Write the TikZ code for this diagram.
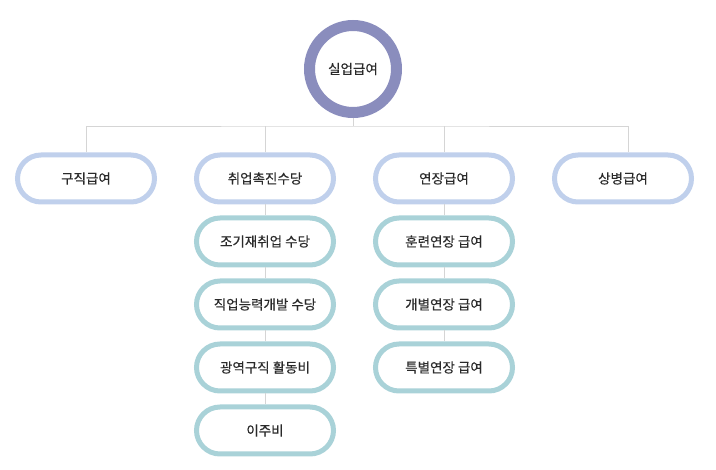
\documentclass[tikz,border=0pt]{standalone}
\usepackage{fontspec}
\setmainfont{Noto Sans CJK KR}[FakeBold=0.4]
\usetikzlibrary{positioning}
\definecolor{rootring}{HTML}{8A8DBD}
\definecolor{topring}{HTML}{C0D0EC}
\definecolor{subring}{HTML}{A9D2D8}
\definecolor{linkgray}{HTML}{D5D5D5}
\definecolor{labeltext}{HTML}{2A2A2A}
\tikzset{
    root/.style = {
        circle,
        draw = rootring,
        line width = 11pt,
        fill = white,
        minimum size = 87pt,
        inner sep = 0pt,
        },
    box/.style = {
        rectangle,
        rounded corners = 23.5pt,
        line width = 5pt,
        fill = white,
        minimum width = 137pt,
        minimum height = 47pt,
        inner sep = 0pt,
        },
    top/.style = {
        box,
        draw = topring,
        },
    sub/.style = {
        box,
        draw = subring,
        },
    link/.style = {
        draw = linkgray,
        line width = 0.8pt,
        },
    every node/.style = {
        text = labeltext,
        font = \fontsize{13.5pt}{16pt}\selectfont,
        }
}
\begin{document}
\begin{tikzpicture}[x=1pt, y=-1pt, node distance=11pt and 37pt]
            \useasboundingbox (0,0) rectangle (716,470);
            \node[root] (0) at (353,69) {실업급여};
            \node[top] (1) at (86,178.5) {구직급여};
            \node[top, right=of 1] (2) {취업촉진수당};
            \node[top, right=of 2] (3) {연장급여};
            \node[top, right=of 3] (4) {상병급여};

            \node[sub, below=of 2] (21) {조기재취업 수당};
            \node[sub, below=of 21] (22) {직업능력개발 수당};
            \node[sub, below=of 22] (23) {광역구직 활동비};
            \node[sub, below=of 23] (24) {이주비};

            \node[sub, below=of 3] (31) {훈련연장 급여};
            \node[sub, below=of 31] (32) {개별연장 급여};
            \node[sub, below=of 32] (33) {특별연장 급여};

            \draw[link] (0.south) -- ++(0,8) coordinate (bus);
            \draw[link] (1.north) |- (bus) -| ([xshift=5pt]4.north);
            \draw[link] (2.north) -- (2.north |- bus);
            \draw[link] (3.north) -- (3.north |- bus);
            \path[link] (2) edge (21) (21) edge (22) (22) edge (23) (23) edge (24);
            \path[link] (3) edge (31) (31) edge (32) (32) edge (33);
        \end{tikzpicture}
\end{document}
